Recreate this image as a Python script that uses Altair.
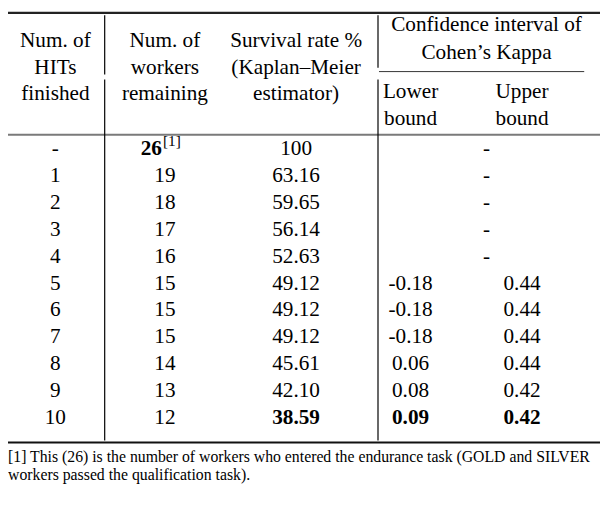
import altair as alt
import pandas as pd

# ---- table values ----
hits = ["-", "1", "2", "3", "4", "5", "6", "7", "8", "9", "10"]
workers = ["26", "19", "18", "17", "16", "15", "15", "15", "14", "13", "12"]
survival = ["100", "63.16", "59.65", "56.14", "52.63", "49.12", "49.12", "49.12", "45.61", "42.10", "38.59"]
lower = ["-", "-", "-", "-", "-", "-0.18", "-0.18", "-0.18", "0.06", "0.08", "0.09"]
upper = ["-", "-", "-", "-", "-", "0.44", "0.44", "0.44", "0.44", "0.42", "0.42"]
merged_rows = 5  # first rows have a single "-" spanning both CI columns
footnote = [
    "[1] This (26) is the number of workers who entered the endurance task (GOLD and SILVER",
    "workers passed the qualification task).",
]

FONT = "Liberation Serif"
FS = 21.5
W, H = 600, 510

records = []
for i, h in enumerate(hits):
    last = i == len(hits) - 1
    records.append({"row": h, "col": "hits", "text": h, "bold": False})
    if i > 0:
        records.append({"row": h, "col": "workers", "text": workers[i], "bold": False})
    records.append({"row": h, "col": "survival", "text": survival[i], "bold": last})
    if i < merged_rows:
        records.append({"row": h, "col": "ci", "text": "-", "bold": False})
    else:
        records.append({"row": h, "col": "lower", "text": lower[i], "bold": last})
        records.append({"row": h, "col": "upper", "text": upper[i], "bold": last})
# first workers cell: bold with a footnote marker
records.append({"row": hits[0], "col": "workers_first", "text": workers[0], "bold": True})
records.append({"row": hits[0], "col": "marker", "text": "[1]", "bold": False})
df = pd.DataFrame(records)

col_x = {"hits": 48, "workers": 159, "survival": 292, "lower": 408, "upper": 521, "ci": 485}

yscale = alt.Scale(type="point", domain=hits, range=[140, 412], padding=0)

base = alt.Chart(df)
layers = []
for c, xv in col_x.items():
    for b in (False, True):
        sub = base.transform_filter(
            (alt.datum.col == c) & (alt.datum.bold == b)
        ).mark_text(
            font=FONT, fontSize=FS, fontWeight="bold" if b else "normal",
            baseline="middle", align="center", color="black"
        ).encode(
            x=alt.value(xv),
            y=alt.Y("row:N", scale=yscale, axis=None),
            text="text:N",
        )
        layers.append(sub)

layers.append(
    base.transform_filter(alt.datum.col == "workers_first").mark_text(
        font=FONT, fontSize=FS, fontWeight="bold", baseline="middle", align="right",
        color="black"
    ).encode(x=alt.value(156), y=alt.Y("row:N", scale=yscale, axis=None), text="text:N")
)
layers.append(
    base.transform_filter(alt.datum.col == "marker").mark_text(
        font=FONT, fontSize=15.5, baseline="middle", align="left", color="black", dy=-9
    ).encode(x=alt.value(157), y=alt.Y("row:N", scale=yscale, axis=None), text="text:N")
)

one = alt.Chart(pd.DataFrame({"k": [0]}))


def htext(txt, x, y, size=FS, align="center"):
    return one.mark_text(font=FONT, fontSize=size, align=align, baseline="middle",
                         color="black").encode(x=alt.value(x), y=alt.value(y), text=alt.value(txt))


# header texts
for txt, y in zip(["Num. of", "HITs", "finished"], [30, 57, 84]):
    layers.append(htext(txt, 48, y))
for txt, y in zip(["Num. of", "workers", "remaining"], [30, 57, 84]):
    layers.append(htext(txt, 159, y))
for txt, y in zip(["Survival rate %", "(Kaplan\u2013Meier", "estimator)"], [30, 57, 84]):
    layers.append(htext(txt, 292, y))
for txt, y in zip(["Confidence interval of", "Cohen\u2019s Kappa"], [14, 42]):
    layers.append(htext(txt, 485, y))
for txt, y in zip(["Lower", "bound"], [82, 109]):
    layers.append(htext(txt, 408, y))
for txt, y in zip(["Upper", "bound"], [82, 109]):
    layers.append(htext(txt, 521, y))

# footnote
layers.append(htext(footnote[0], 0, 452, size=16, align="left"))
layers.append(htext(footnote[1], 0, 470, size=16, align="left"))


def hrule(y, x1, x2, w, color):
    return one.mark_rule(strokeWidth=w, color=color).encode(
        x=alt.value(x1), x2=alt.value(x2), y=alt.value(y))


def vrule(x, y1, y2, w=1.2, color="black"):
    return one.mark_rule(strokeWidth=w, color=color).encode(
        x=alt.value(x), y=alt.value(y1), y2=alt.value(y2))


layers += [
    hrule(1.5, 0, W, 2.5, "#222222"),
    hrule(125, 0, W, 2, "#7a7a7a"),
    hrule(61, 376, 584, 1, "#333333"),
    hrule(437, 0, W, 2, "#111111"),
    vrule(98, 4, 64),
    vrule(98, 69, 435),
    vrule(375, 4, 57),
    vrule(375, 69, 435),
]

chart = alt.layer(*layers).properties(
    width=W, height=H, padding=0,
    autosize=alt.AutoSizeParams(type="none"),
).configure_view(stroke=None)

chart.save("out.html", embed_options={"renderer": "svg", "actions": False})
